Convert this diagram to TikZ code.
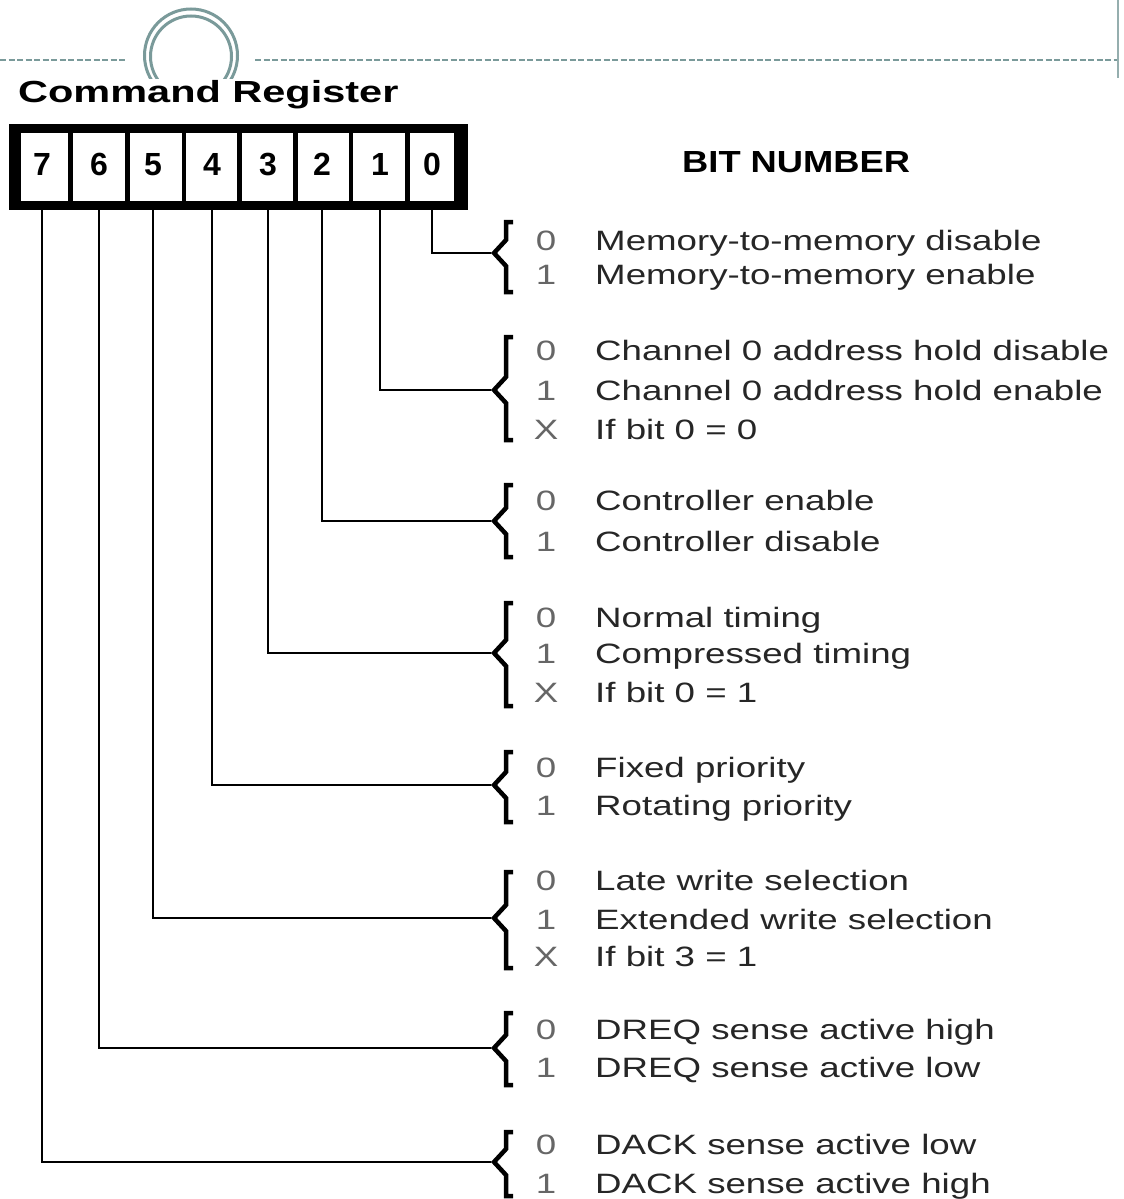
\documentclass[tikz,border=0pt]{standalone}
\usepackage{fontspec}
\newfontfamily\descfont[FakeStretch=1.31]{Liberation Sans}
\newfontfamily\titlefont[FakeStretch=1.36]{Liberation Sans}
\newfontfamily\headfont[FakeStretch=1.19]{Liberation Sans}
\newfontfamily\cellfont{Liberation Sans}
\definecolor{decor}{RGB}{122,154,154}

\tikzset{
  conn/.style={line width=2pt},
  bracestroke/.style={line width=4.5pt, line join=miter},
  bitval/.style={anchor=base, inner sep=0pt, text=black!60,
    font=\descfont\fontsize{28}{34}\selectfont},
  desc/.style={anchor=base west, inner sep=0pt, text=black!85,
    font=\descfont\fontsize{28}{34}\selectfont},
  cell/.style={inner sep=0pt, anchor=base, font=\cellfont\bfseries\fontsize{32}{38}\selectfont},
  divider/.style={line width=4.5pt},
  decoline/.style={draw=decor, line width=2.5pt, dash pattern=on 6pt off 2.5pt},
  ring/.style={draw=decor, line width=3pt}
}

% brace with its tip coordinate: name, top, tip, bottom
\newcommand\bitbrace[4]{%
  \coordinate (#1) at (491,#3);
  \draw[bracestroke] (513,#2) -- (506,#2) -- (506,#3-13)
    -- (494,#3) -- (506,#3+13)
    -- (506,#4) -- (513,#4);
}
% one value line: name, baseline, value, meaning
\newcommand\bitrow[4]{%
  \node[bitval] (#1v) at (546,#2) {#3};
  \node[desc] (#1d) at (595,#2) {#4};
}

\begin{document}
\begin{tikzpicture}[x=1pt, y=-1pt]
  \useasboundingbox (0,0) rectangle (1124,1199);
  \fill[white] (0,0) rectangle (1124,1199);

  % slide decoration: dashed rule, double ring, right edge
  \draw[decoline] (0,60) -- (125,60);
  \draw[decoline] (255,60) -- (1118,60);
  \draw[draw=decor!80, line width=2.5pt] (1118,0) -- (1118,78);
  \begin{scope}
    \clip (100,0) rectangle (290,78);
    \draw[ring] (191,55.5) circle[radius=46.5];
    \draw[ring] (191,56.5) circle[radius=40.5];
  \end{scope}

  % titles
  \node[anchor=base west, inner sep=0pt,
    font=\titlefont\bfseries\fontsize{30.5}{36}\selectfont] (title) at (18,102) {Command Register};
  \node[anchor=base west, inner sep=0pt,
    font=\headfont\bfseries\fontsize{30.5}{36}\selectfont] (bitnum) at (682,172) {BIT NUMBER};

  % register box
  \node[fill=black, inner sep=0pt, minimum width=459pt, minimum height=86pt] (reg) at (238.5,167) {};
  \fill[white] (21,133) rectangle (454,201);
  \foreach \d in {70.5,127.5,184,239.5,295.5,351,407.5}
    \draw[divider] (\d,133) -- (\d,201);

  \node[cell] (b7) at (42,175) {7};
  \node[cell] (b6) at (99,175) {6};
  \node[cell] (b5) at (153,175) {5};
  \node[cell] (b4) at (212,175) {4};
  \node[cell] (b3) at (268,175) {3};
  \node[cell] (b2) at (322,175) {2};
  \node[cell] (b1) at (380,175) {1};
  \node[cell] (b0) at (432,175) {0};

  % braces
  \bitbrace{t0}{222}{253}{292}
  \bitbrace{t1}{337}{390}{440}
  \bitbrace{t2}{485}{521}{557}
  \bitbrace{t3}{603}{653}{706}
  \bitbrace{t4}{752}{785}{822}
  \bitbrace{t5}{872}{918}{968}
  \bitbrace{t6}{1013}{1048}{1085}
  \bitbrace{t7}{1132}{1162}{1196}

  % connectors from each bit to its brace
  \foreach \b in {0,...,7}
    \draw[conn] (b\b |- reg.south) |- (t\b);

  % value descriptions
  \bitrow{a0}{250}{0}{Memory-to-memory disable}
  \bitrow{a1}{284}{1}{Memory-to-memory enable}

  \bitrow{c0}{360}{0}{Channel 0 address hold disable}
  \bitrow{c1}{400}{1}{Channel 0 address hold enable}
  \bitrow{cx}{439}{X}{If bit 0 = 0}

  \bitrow{e0}{510}{0}{Controller enable}
  \bitrow{e1}{551}{1}{Controller disable}

  \bitrow{n0}{627}{0}{Normal timing}
  \bitrow{n1}{663}{1}{Compressed timing}
  \bitrow{nx}{702}{X}{If bit 0 = 1}

  \bitrow{p0}{777}{0}{Fixed priority}
  \bitrow{p1}{815}{1}{Rotating priority}

  \bitrow{w0}{890}{0}{Late write selection}
  \bitrow{w1}{929}{1}{Extended write selection}
  \bitrow{wx}{966}{X}{If bit 3 = 1}

  \bitrow{r0}{1039}{0}{DREQ sense active high}
  \bitrow{r1}{1077}{1}{DREQ sense active low}

  \bitrow{k0}{1154}{0}{DACK sense active low}
  \bitrow{k1}{1193}{1}{DACK sense active high}
\end{tikzpicture}
\end{document}
